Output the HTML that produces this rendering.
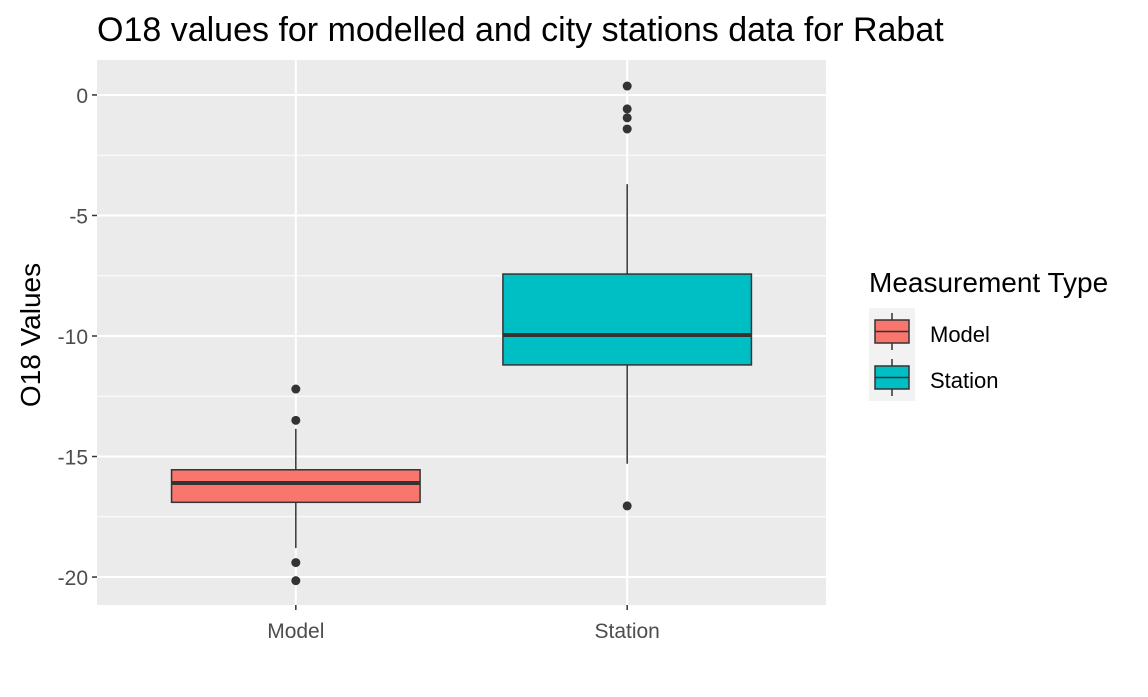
<!DOCTYPE html>
<html><head><meta charset="utf-8"><style>
body{margin:0;background:#fff;}
svg text{font-family:"Liberation Sans",Arial,sans-serif;}
</style></head><body>
<svg id="chart" width="1148" height="692" xmlns="http://www.w3.org/2000/svg">
<rect width="1148" height="692" fill="#fff"/>
<text x="97" y="41" font-size="34" fill="#000">O18 values for modelled and city stations data for Rabat</text>
<rect x="97" y="60" width="729" height="545" fill="#EBEBEB"/>
<g id="grid"></g><g id="marks"></g><g id="axes"></g>
<text transform="translate(40,335) rotate(-90)" text-anchor="middle" font-size="28" fill="#000">O18 Values</text>
<g>
<text x="869" y="292" font-size="28" fill="#000">Measurement Type</text>
<rect x="869" y="308" width="46" height="93" fill="#F2F2F2"/>
<g>
<line x1="892" y1="313" x2="892" y2="350" stroke="#333" stroke-width="1.5"/>
<rect x="875" y="320" width="34" height="23" fill="#F8766D" stroke="#333" stroke-width="1.5"/>
<line x1="875" y1="331.5" x2="909" y2="331.5" stroke="#333" stroke-width="1.5"/>
<text x="930" y="342" font-size="22" fill="#000">Model</text></g>
<g>
<line x1="892" y1="359" x2="892" y2="396" stroke="#333" stroke-width="1.5"/>
<rect x="875" y="366" width="34" height="23" fill="#00BFC4" stroke="#333" stroke-width="1.5"/>
<line x1="875" y1="377.5" x2="909" y2="377.5" stroke="#333" stroke-width="1.5"/>
<text x="930" y="388" font-size="22" fill="#000">Station</text></g>
</g>
</svg>
<script>
const categories=["Model","Station"];
const colors=["#F8766D","#00BFC4"];
const q1=[-16.9,-11.2];
const medians=[-16.1,-9.96];
const q3=[-15.55,-7.43];
const whiskerLow=[-18.8,-15.3];
const whiskerHigh=[-13.85,-3.7];
const outliers=[[-12.2,-13.5,-19.4,-20.15],[0.37,-0.58,-0.95,-1.41,-17.05]];
const yTicks=[0,-5,-10,-15,-20];
const NS="http://www.w3.org/2000/svg";
const pL=97,pR=826,pT=60,pB=605,yMax=1.45,yMin=-21.16;
const y=v=>pT+(yMax-v)/(yMax-yMin)*(pB-pT);
const unit=(pR-pL)/(categories.length-1+1.2);
const x=i=>pL+unit*(i+0.6);
function mk(t,a,p){const e=document.createElementNS(NS,t);for(const k in a)e.setAttribute(k,a[k]);p.appendChild(e);return e;}
const grid=document.getElementById('grid'),marks=document.getElementById('marks'),axes=document.getElementById('axes');
for(let i=0;i<yTicks.length-1;i++){const m=(yTicks[i]+yTicks[i+1])/2;
const l=mk('line',{x1:pL,x2:pR,y1:y(m),y2:y(m),stroke:'#fff','stroke-width':1},grid);

}
yTicks.forEach(t=>{const l=mk('line',{x1:pL,x2:pR,y1:y(t),y2:y(t),stroke:'#fff','stroke-width':2},grid);


mk('line',{x1:pL-5,x2:pL,y1:y(t),y2:y(t),stroke:'#333','stroke-width':1.5},axes);
const tx=mk('text',{x:pL-9,y:y(t)+8,'text-anchor':'end','font-size':21,fill:'#4D4D4D'},axes);tx.textContent=t;

});
categories.forEach((c,i)=>{const cx=x(i);
const g=mk('line',{x1:cx,x2:cx,y1:pT,y2:pB,stroke:'#fff','stroke-width':2},grid);


mk('line',{x1:cx,x2:cx,y1:pB,y2:pB+5,stroke:'#333','stroke-width':1.5},axes);
const tx=mk('text',{x:cx,y:pB+33,'text-anchor':'middle','font-size':21,fill:'#4D4D4D'},axes);tx.textContent=c;


const grp=mk('g',{},marks);


mk('line',{x1:cx,x2:cx,y1:y(whiskerHigh[i]),y2:y(q3[i]),stroke:'#333','stroke-width':1.5},grp);
mk('line',{x1:cx,x2:cx,y1:y(q1[i]),y2:y(whiskerLow[i]),stroke:'#333','stroke-width':1.5},grp);
const w=unit*0.75;
mk('rect',{x:cx-w/2,y:y(q3[i]),width:w,height:y(q1[i])-y(q3[i]),fill:colors[i],stroke:'#333','stroke-width':1.5},grp);
mk('line',{x1:cx-w/2,x2:cx+w/2,y1:y(medians[i]),y2:y(medians[i]),stroke:'#333','stroke-width':4},grp);
outliers[i].forEach(o=>{const d=mk('circle',{cx:cx,cy:y(o),r:4.5,fill:'#333'},grp);

});});
</script>
</body></html>
